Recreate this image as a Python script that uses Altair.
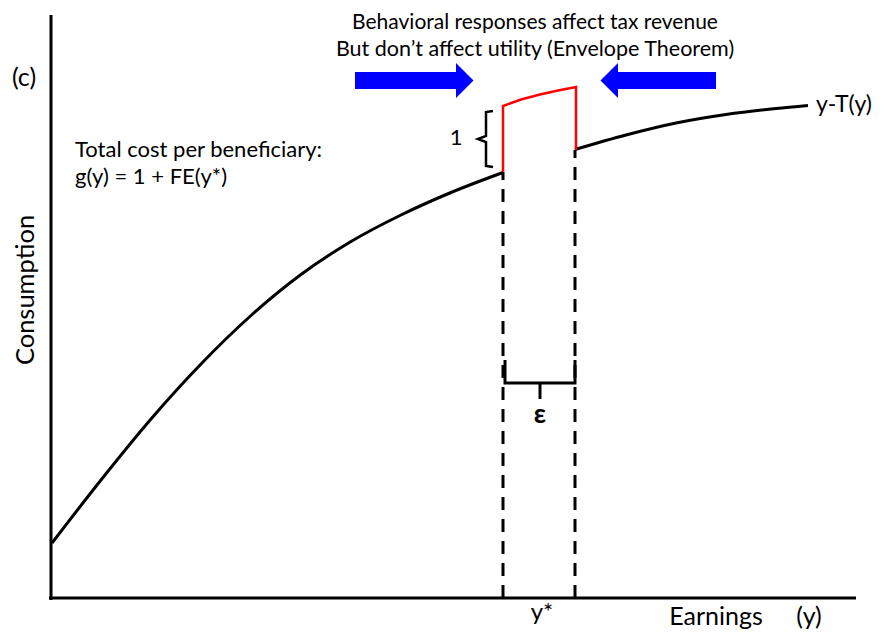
import altair as alt
import pandas as pd

# Diagram units: x = earnings, y = consumption (origin at the axes corner)
# y - T(y) schedule (two pieces, interrupted around y*)
curve_x = [1, 50, 100, 150, 200, 250, 300, 350, 400, 452,
           524, 575, 625, 675, 725, 757]
curve_y = [55, 118, 179, 234, 282.5, 323.5, 356.5, 383, 405.5, 425.5,
           448.5, 463, 475, 483.5, 489.5, 492.5]
curve_piece = ["low"] * 10 + ["high"] * 6

# red shifted segment (budget set with the +1 transfer)
red_x = [452, 452, 470, 489, 507, 525, 525]
red_y = [426, 492, 498.5, 503.5, 507.5, 511, 448]

# dashed verticals at y* and y*+epsilon
dash_x = [452, 524]
dash_top = [426, 448]

# axis lines
axis_x = [0, -2]
axis_y = [583, 0]
axis_x2 = [0, 805]
axis_y2 = [-2, 0]

# braces ("1" and epsilon)
brace1_x = [442, 435, 435, 427, 435, 435, 442]
brace1_y = [487, 486, 462, 459, 456, 432, 431]
eps_x = [454, 454, 524, 524]
eps_y = [238, 215, 215, 238]
eps_tick_x = [489, 489]
eps_tick_y = [215, 199]

# blue arrows
arrow_body_x = [304, 567]
arrow_body_x2 = [406, 665]
arrow_y = [517.5, 517.5]
arrow_head_x = [405, 567]

# texts
title_lines = ["Behavioral responses affect tax revenue",
               "But don\u2019t affect utility (Envelope Theorem)"]
title_y = [586.5, 542]
title_base = ["top", "alphabetic"]
note_lines = ["Total cost per beneficiary:", "g(y) = 1  + FE(y*)"]
note_y = [441, 414]

XD = [-43, 829]
YD = [-31, 590]
xs = alt.Scale(domain=XD, nice=False, zero=False)
ys = alt.Scale(domain=YD, nice=False, zero=False)
FONT = "Lato"


def X(f="x"):
    return alt.X(f"{f}:Q", scale=xs, axis=None)


def Y(f="y"):
    return alt.Y(f"{f}:Q", scale=ys, axis=None)


curve_df = pd.DataFrame({"x": curve_x, "y": curve_y, "piece": curve_piece,
                         "o": list(range(len(curve_x)))})
curve = alt.Chart(curve_df).mark_line(color="black", strokeWidth=3,
                                      interpolate="monotone").encode(
    x=X(), y=Y(), detail="piece:N", order="o:Q")

red_df = pd.DataFrame({"x": red_x, "y": red_y, "o": list(range(len(red_x)))})
red = alt.Chart(red_df).mark_line(color="#ff0000", strokeWidth=2.5,
                                  strokeJoin="miter").encode(
    x=X(), y=Y(), order="o:Q")

dash_df = pd.DataFrame({"x": dash_x, "y": [0, 0], "y2": dash_top})
dashes = alt.Chart(dash_df).mark_rule(color="black", strokeWidth=3,
                                      strokeDash=[13, 9]).encode(
    x=X(), y=Y(), y2="y2:Q")

axes_df = pd.DataFrame({"x": axis_x, "y": axis_y, "x2": axis_x2, "y2": axis_y2})
axes = alt.Chart(axes_df).mark_rule(color="black", strokeWidth=3).encode(
    x=X(), y=Y(), x2="x2:Q", y2="y2:Q")

b1_df = pd.DataFrame({"x": brace1_x, "y": brace1_y, "o": list(range(len(brace1_x)))})
brace1 = alt.Chart(b1_df).mark_line(color="black", strokeWidth=2.5).encode(
    x=X(), y=Y(), order="o:Q")

eps_df = pd.DataFrame({"x": eps_x, "y": eps_y, "o": list(range(len(eps_x)))})
eps = alt.Chart(eps_df).mark_line(color="black", strokeWidth=3).encode(
    x=X(), y=Y(), order="o:Q")
epst_df = pd.DataFrame({"x": eps_tick_x, "y": eps_tick_y, "o": [0, 1]})
epst = alt.Chart(epst_df).mark_line(color="black", strokeWidth=3).encode(
    x=X(), y=Y(), order="o:Q")

ab_df = pd.DataFrame({"x": arrow_body_x, "x2": arrow_body_x2, "y": arrow_y})
arrow_bodies = alt.Chart(ab_df).mark_rule(color="#0000ff", strokeWidth=17).encode(
    x=X(), x2="x2:Q", y=Y())

ah_r = pd.DataFrame({"x": [arrow_head_x[0]], "y": [arrow_y[0]]})
ah_l = pd.DataFrame({"x": [arrow_head_x[1]], "y": [arrow_y[1]]})
head_r = alt.Chart(ah_r).mark_point(shape="M0,-1L1,0L0,1Z", size=1225, filled=True,
                                    color="#0000ff", opacity=1, strokeWidth=0).encode(
    x=X(), y=Y())
head_l = alt.Chart(ah_l).mark_point(shape="M0,-1L-1,0L0,1Z", size=1225, filled=True,
                                    color="#0000ff", opacity=1, strokeWidth=0).encode(
    x=X(), y=Y())

title1 = alt.Chart(pd.DataFrame({"x": [484], "y": [title_y[0]], "t": [title_lines[0]]})).mark_text(
    font=FONT, fontSize=21, color="black", align="center", baseline=title_base[0]).encode(
    x=X(), y=Y(), text="t:N")
title2 = alt.Chart(pd.DataFrame({"x": [484], "y": [title_y[1]], "t": [title_lines[1]]})).mark_text(
    font=FONT, fontSize=21.5, color="black", align="center", baseline=title_base[1]).encode(
    x=X(), y=Y(), text="t:N")

note_df = pd.DataFrame({"x": [24, 24], "y": note_y, "t": note_lines})
notes = alt.Chart(note_df).mark_text(font=FONT, fontSize=22, color="black",
                                     align="left", baseline="alphabetic").encode(
    x=X(), y=Y(), text="t:N")

lab_df = pd.DataFrame({
    "x": [-27, 405, 491, 665, 758],
    "y": [512, 453, -22, -27, -27],
    "t": ["(c)", "1", "y*", "Earnings", "(y)"],
    "fs": [25, 22, 24, 25, 25],
})
labs_c = alt.Chart(lab_df).mark_text(
    font=FONT, color="black", align="center", baseline="alphabetic").encode(
    x=X(), y=Y(), text="t:N", size=alt.Size("fs:Q", scale=None))

curve_lab = alt.Chart(pd.DataFrame({"x": [765], "y": [486], "t": ["y-T(y)"]})).mark_text(
    font=FONT, fontSize=23, color="black", align="left", baseline="alphabetic").encode(
    x=X(), y=Y(), text="t:N")

eps_lab = alt.Chart(pd.DataFrame({"x": [489], "y": [183], "t": ["\u03b5"]})).mark_text(
    font=FONT, fontSize=27, fontWeight="bold", color="black",
    align="center", baseline="middle").encode(x=X(), y=Y(), text="t:N")

ylab = alt.Chart(pd.DataFrame({"x": [-25.5], "y": [308], "t": ["Consumption"]})).mark_text(
    font=FONT, fontSize=25.5, color="black", angle=270,
    align="center", baseline="middle").encode(x=X(), y=Y(), text="t:N")

chart = alt.layer(
    axes, curve, dashes, red, brace1, eps, epst, arrow_bodies, head_r, head_l,
    title1, title2, notes, labs_c, curve_lab, eps_lab, ylab
).properties(
    width=872, height=621, padding=0,
    autosize=alt.AutoSizeParams(type="none"),
    background="white",
).configure_view(stroke=None)

chart.save("out.html", embed_options={"renderer": "svg", "actions": False})
